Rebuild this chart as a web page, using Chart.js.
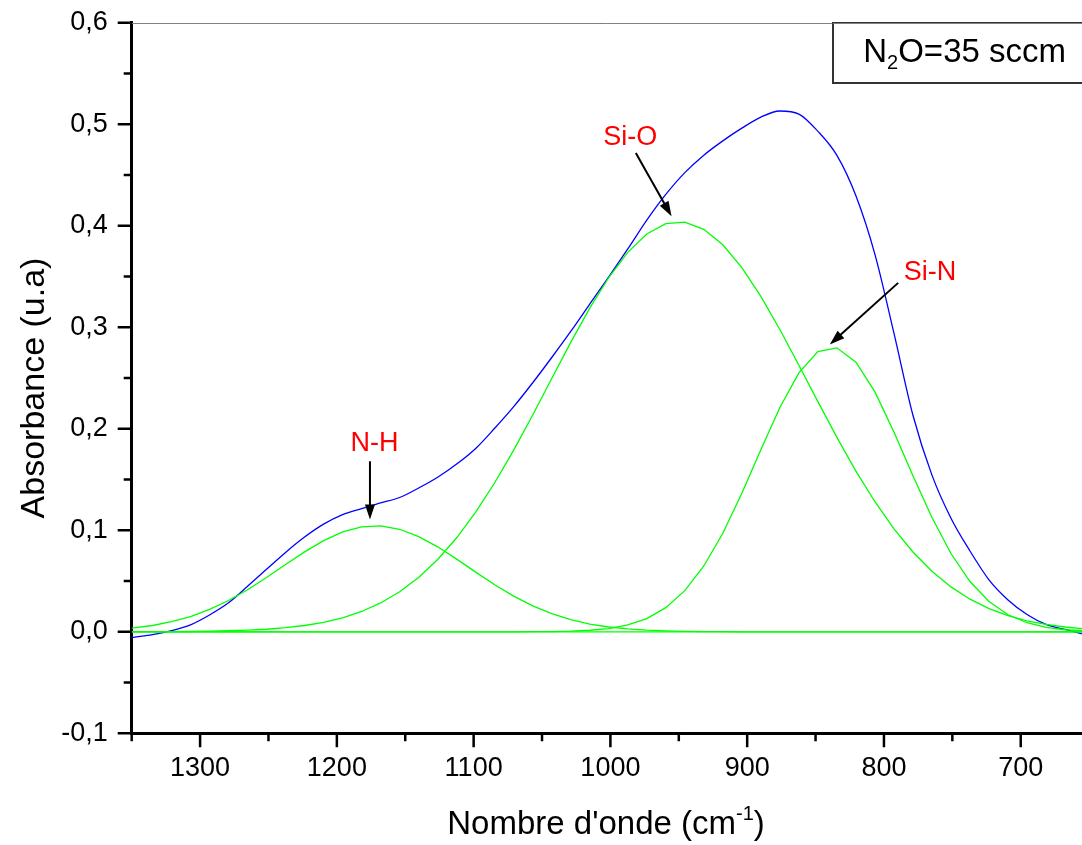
<!DOCTYPE html>
<html>
<head>
<meta charset="utf-8">
<script src="https://cdn.jsdelivr.net/npm/chart.js@4.4.1/dist/chart.umd.min.js"></script>
<style>
html, body { margin: 0; padding: 0; background: #ffffff; }
canvas { display: block; }
</style>
</head>
<body>
<canvas id="chart" width="1082" height="845"></canvas>
<script>
// ---------------- data ----------------
const wavenumbers = [1362.6, 1348.7, 1334.8, 1320.9, 1307.0, 1293.1, 1279.2, 1265.3, 1251.4, 1237.5,
  1223.6, 1209.7, 1195.8, 1181.9, 1168.0, 1154.1, 1140.2, 1126.3, 1112.4, 1098.5,
  1084.6, 1070.7, 1056.8, 1042.9, 1029.0, 1015.1, 1001.2, 987.3, 973.4, 959.5,
  945.6, 931.7, 917.8, 903.9, 890.0, 876.1, 862.2, 848.3, 834.4, 820.5,
  806.6, 792.7, 778.8, 764.9, 751.0, 737.1, 723.2, 709.3, 695.4, 681.5,
  667.6, 653.7, 639.8];

const absorbance = [-0.0083, -0.0055, -0.0028, 0.0011, 0.0068, 0.0165, 0.0285, 0.0448, 0.0616, 0.0782,
  0.0933, 0.1060, 0.1154, 0.1214, 0.1269, 0.1323, 0.1416, 0.1522, 0.1652, 0.1806,
  0.2005, 0.2218, 0.2453, 0.2702, 0.2959, 0.3228, 0.3495, 0.3771, 0.4055, 0.4308,
  0.4523, 0.4695, 0.4836, 0.4961, 0.5070, 0.5130, 0.5100, 0.4930, 0.4693, 0.4295,
  0.3718, 0.2942, 0.2133, 0.1543, 0.1119, 0.0796, 0.0512, 0.0314, 0.0171, 0.0073,
  0.0023, -0.0025, -0.0075];

const peakNH = [0.0022, 0.0038, 0.0062, 0.0099, 0.0150, 0.0220, 0.0308, 0.0414, 0.0534, 0.0662,
  0.0787, 0.0898, 0.0984, 0.1034, 0.1043, 0.1010, 0.0938, 0.0837, 0.0716, 0.0588,
  0.0464, 0.0351, 0.0255, 0.0178, 0.0119, 0.0076, 0.0047, 0.0028, 0.0016, 0.0009,
  0.0005, 0.0002, 0.0001, 0, 0, 0, 0, 0, 0, 0,
  0, 0, 0, 0, 0, 0, 0, 0, 0, 0,
  0, 0, 0];

const peakSiO = [0.0000, 0.0001, 0.0001, 0.0002, 0.0003, 0.0006, 0.0010, 0.0016, 0.0025, 0.0040,
  0.0062, 0.0093, 0.0138, 0.0200, 0.0284, 0.0394, 0.0535, 0.0712, 0.0926, 0.1178,
  0.1468, 0.1790, 0.2136, 0.2495, 0.2851, 0.3188, 0.3490, 0.3738, 0.3918, 0.4020,
  0.4036, 0.3965, 0.3813, 0.3588, 0.3304, 0.2978, 0.2626, 0.2267, 0.1915, 0.1583,
  0.1281, 0.1014, 0.0786, 0.0596, 0.0442, 0.0321, 0.0228, 0.0159, 0.0108, 0.0072,
  0.0047, 0.0030, 0.0019];

const peakSiN = [0, 0, 0, 0, 0, 0, 0, 0, 0, 0,
  0, 0, 0, 0, 0, 0, 0, 0, 0, 0,
  0, 0.0000, 0.0001, 0.0002, 0.0006, 0.0015, 0.0032, 0.0067, 0.0130, 0.0238,
  0.0405, 0.0648, 0.0971, 0.1364, 0.1794, 0.2210, 0.2551, 0.2760, 0.2797, 0.2656,
  0.2363, 0.1969, 0.1538, 0.1125, 0.0771, 0.0495, 0.0298, 0.0168, 0.0089, 0.0044,
  0.0020, 0.0009, 0.0004];

const baselineWavenumbers = [1362.6, 639.8];
const baselineValues = [0, 0];

const xMajorTicks = [1300, 1200, 1100, 1000, 900, 800, 700];
const xMinorTicks = [1350, 1250, 1150, 1050, 950, 850, 750];
const yMajorTicks = [-0.1, 0.0, 0.1, 0.2, 0.3, 0.4, 0.5, 0.6];
const yMinorTicks = [-0.05, 0.05, 0.15, 0.25, 0.35, 0.45, 0.55];

const annotations = [
  { label: 'Si-O', textX: 985.5, textY: 0.4878, fromX: 981.4, fromY: 0.4717, toX: 955.3, toY: 0.4093 },
  { label: 'N-H', textX: 1172.5, textY: 0.1862, fromX: 1175.8, fromY: 0.168, toX: 1175.8, toY: 0.1106 },
  { label: 'Si-N', textX: 766.4, textY: 0.3552, fromX: 789.6, fromY: 0.3437, toX: 839.6, toY: 0.283 }
];

// ---------------- helpers ----------------
const FONT = '"Liberation Sans", Arial, Helvetica, sans-serif';
function pts(xs, ys) { return xs.map((x, i) => ({ x: x, y: ys[i] })); }
function greenSet(label, values) {
  return { label: label, data: pts(wavenumbers, values), borderColor: '#00ff00', borderWidth: 1.3,
           pointRadius: 0, tension: 0, fill: false };
}

const overlayPlugin = {
  id: 'overlay',
  afterDatasetsDraw(chart) {
    const ctx = chart.ctx;
    const xs = chart.scales.x, ys = chart.scales.y;
    const area = chart.chartArea;
    ctx.save();
    // top frame line
    ctx.strokeStyle = '#808080';
    ctx.lineWidth = 1;
    ctx.beginPath();
    ctx.moveTo(area.left, Math.round(area.top) + 0.5);
    ctx.lineTo(area.right, Math.round(area.top) + 0.5);
    ctx.stroke();

    // tick marks
    ctx.strokeStyle = '#000000';
    ctx.lineWidth = 2.5;
    ctx.beginPath();
    xMajorTicks.forEach(v => { const p = xs.getPixelForValue(v); ctx.moveTo(p, area.bottom); ctx.lineTo(p, area.bottom + 14); });
    xMinorTicks.forEach(v => { const p = xs.getPixelForValue(v); ctx.moveTo(p, area.bottom); ctx.lineTo(p, area.bottom + 8); });
    yMajorTicks.forEach(v => { const p = ys.getPixelForValue(v); ctx.moveTo(area.left, p); ctx.lineTo(area.left - 14, p); });
    yMinorTicks.forEach(v => { const p = ys.getPixelForValue(v); ctx.moveTo(area.left, p); ctx.lineTo(area.left - 8, p); });
    ctx.stroke();

    // annotations
    annotations.forEach(a => {
      const tx = xs.getPixelForValue(a.textX), ty = ys.getPixelForValue(a.textY);
      ctx.fillStyle = '#ff0000';
      ctx.font = '27px ' + FONT;
      ctx.textAlign = 'center';
      ctx.textBaseline = 'middle';
      ctx.fillText(a.label, tx, ty + 1);
      const x1 = xs.getPixelForValue(a.fromX), y1 = ys.getPixelForValue(a.fromY);
      const x2 = xs.getPixelForValue(a.toX), y2 = ys.getPixelForValue(a.toY);
      const ang = Math.atan2(y2 - y1, x2 - x1);
      const hl = 15, hw = 5;
      ctx.strokeStyle = '#000000';
      ctx.lineWidth = 2;
      ctx.beginPath();
      ctx.moveTo(x1, y1);
      ctx.lineTo(x2 - (hl - 2) * Math.cos(ang), y2 - (hl - 2) * Math.sin(ang));
      ctx.stroke();
      ctx.fillStyle = '#000000';
      ctx.beginPath();
      ctx.moveTo(x2, y2);
      ctx.lineTo(x2 - hl * Math.cos(ang) + hw * Math.sin(ang), y2 - hl * Math.sin(ang) - hw * Math.cos(ang));
      ctx.lineTo(x2 - hl * Math.cos(ang) - hw * Math.sin(ang), y2 - hl * Math.sin(ang) + hw * Math.cos(ang));
      ctx.closePath();
      ctx.fill();
    });

    // legend box
    const bx = 833, by = Math.round(area.top), bh = 60;
    ctx.fillStyle = '#ffffff';
    ctx.fillRect(bx, by, chart.width - bx + 5, bh);
    ctx.strokeStyle = '#333333';
    ctx.lineWidth = 2;
    ctx.strokeRect(bx, by, chart.width - bx + 20, bh);
    ctx.strokeStyle = '#808080';
    ctx.lineWidth = 1;
    ctx.beginPath();
    ctx.moveTo(bx, by + 0.5); ctx.lineTo(chart.width, by + 0.5);
    ctx.stroke();
    ctx.fillStyle = '#000000';
    ctx.textAlign = 'left';
    ctx.textBaseline = 'alphabetic';
    const base = by + 39;
    ctx.font = '33px ' + FONT;
    const wN = ctx.measureText('N').width, wRest = ctx.measureText('O=35 sccm').width;
    ctx.font = '20px ' + FONT;
    const w2 = ctx.measureText('2').width;
    let cx = 1066 - (wN + w2 + wRest);
    ctx.font = '33px ' + FONT;
    ctx.fillText('N', cx, base); cx += wN;
    ctx.font = '20px ' + FONT;
    ctx.fillText('2', cx, base + 7); cx += w2;
    ctx.font = '33px ' + FONT;
    ctx.fillText('O=35 sccm', cx, base);

    // axis titles
    ctx.fillStyle = '#000000';
    const t1 = "Nombre d'onde (cm", t2 = '-1', t3 = ')';
    ctx.font = '33px ' + FONT;
    const m1 = ctx.measureText(t1).width, m3 = ctx.measureText(t3).width;
    ctx.font = '20px ' + FONT;
    const m2 = ctx.measureText(t2).width;
    const total = m1 + m2 + m3;
    let sx = 606 - total / 2;
    const tb = 834;
    ctx.font = '33px ' + FONT;
    ctx.fillText(t1, sx, tb); sx += m1;
    ctx.font = '20px ' + FONT;
    ctx.fillText(t2, sx, tb - 14); sx += m2;
    ctx.font = '33px ' + FONT;
    ctx.fillText(t3, sx, tb);

    ctx.translate(44, 388);
    ctx.rotate(-Math.PI / 2);
    ctx.textAlign = 'center';
    ctx.font = '34px ' + FONT;
    ctx.fillText('Absorbance (u.a)', 0, 0);
    ctx.restore();
  }
};

const chart = new Chart(document.getElementById('chart'), {
  type: 'line',
  data: {
    datasets: [
      { label: 'Baseline', data: pts(baselineWavenumbers, baselineValues), borderColor: '#00ff00',
        borderWidth: 1.3, pointRadius: 0, tension: 0, fill: false },
      greenSet('N-H', peakNH),
      greenSet('Si-O', peakSiO),
      greenSet('Si-N', peakSiN),
      { label: 'Absorbance', data: pts(wavenumbers, absorbance), borderColor: '#0000ff', borderWidth: 1.3,
        pointRadius: 0, cubicInterpolationMode: 'monotone', fill: false }
    ]
  },
  options: {
    responsive: false,
    animation: false,
    devicePixelRatio: 1,
    layout: { padding: { left: 0, right: 0, top: 22.7, bottom: 0 } },
    plugins: { legend: { display: false }, tooltip: { enabled: false }, title: { display: false } },
    scales: {
      x: {
        type: 'linear', reverse: true, min: 655.2, max: 1350,
        grid: { display: false, drawTicks: true, tickLength: 14 },
        border: { display: true, color: '#000000', width: 3 },
        afterBuildTicks: (s) => { s.ticks = xMajorTicks.map(v => ({ value: v })); },
        afterFit: (s) => { s.height = 845 - 733.3; s.paddingLeft = 0; s.paddingRight = 0; },
        ticks: { autoSkip: false, maxRotation: 0, padding: 5, color: '#000000',
                 font: { family: FONT, size: 27 }, callback: (v) => String(v) }
      },
      y: {
        type: 'linear', min: -0.1, max: 0.6,
        grid: { display: false, drawTicks: true, tickLength: 14 },
        border: { display: true, color: '#000000', width: 3 },
        afterBuildTicks: (s) => { s.ticks = yMajorTicks.map(v => ({ value: v })); },
        afterFit: (s) => { s.width = 131.7; s.paddingTop = 0; s.paddingBottom = 0; },
        ticks: { autoSkip: false, padding: 10, color: '#000000',
                 font: { family: FONT, size: 27 },
                 callback: (v) => Number(v).toFixed(1).replace('.', ',') }
      }
    }
  },
  plugins: [overlayPlugin]
});
</script>
</body>
</html>
